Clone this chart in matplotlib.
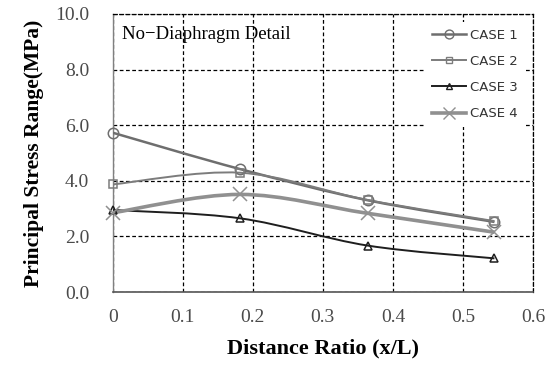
import numpy as np
import matplotlib
matplotlib.use("Agg")
import matplotlib.pyplot as plt
from matplotlib.path import Path
from matplotlib.patches import PathPatch
from matplotlib.lines import Line2D

# data
ratio = [0.0, 0.182, 0.364, 0.545]
case1 = [5.73, 4.42, 3.30, 2.52]
case2 = [3.87, 4.29, 3.31, 2.55]
case3 = [2.95, 2.65, 1.67, 1.21]
case4 = [2.85, 3.51, 2.83, 2.15]
names = ["CASE 1", "CASE 2", "CASE 3", "CASE 4"]
x_ticks = [0, 0.1, 0.2, 0.3, 0.4, 0.5, 0.6]
x_tick_labels = ["0", "0.1", "0.2", "0.3", "0.4", "0.5", "0.6"]
y_ticks = [0, 2, 4, 6, 8, 10]

styles = [
    dict(color="#6e6e6e", lw=1.8, marker="o", ms=7.5),
    dict(color="#7c7c7c", lw=1.4, marker="s", ms=5.5),
    dict(color="#1e1e1e", lw=1.4, marker="^", ms=5.5),
    dict(color="#909090", lw=2.6, marker="x", ms=10),
]


def smooth_path(xs, ys):
    # Excel-style smoothed line as cubic bezier segments
    pts = np.column_stack([xs, ys])
    n = len(pts)
    verts = [pts[0]]
    codes = [Path.MOVETO]
    for i in range(n - 1):
        p0 = pts[i - 1] if i > 0 else pts[i]
        p1 = pts[i]
        p2 = pts[i + 1]
        p3 = pts[i + 2] if i + 2 < n else pts[i + 1]
        c1 = p1 + (p2 - p0) / 6.0
        c2 = p2 - (p3 - p1) / 6.0
        verts += [c1, c2, p2]
        codes += [Path.CURVE4] * 3
    return Path(verts, codes)


fig = plt.figure(figsize=(5.56, 3.68), dpi=100)
ax = fig.add_axes([0.2027, 0.2065, 0.7559, 0.7555])

serif = ["Liberation Serif", "DejaVu Serif"]

for vals, name, st in zip([case1, case2, case3, case4], names, styles):
    patch = PathPatch(smooth_path(ratio, vals), fill=False, edgecolor=st["color"],
                      lw=st["lw"], zorder=3)
    ax.add_patch(patch)
    ax.plot(ratio, vals, linestyle="none", marker=st["marker"], ms=st["ms"],
            mfc="none", mec=st["color"], mew=1.1, zorder=4, clip_on=False)

ax.set_xlim(0, 0.6)
ax.set_ylim(0, 10)
ax.set_xticks(x_ticks)
ax.set_xticklabels(x_tick_labels)
ax.set_yticks(y_ticks)
ax.set_yticklabels([f"{v:.1f}" for v in y_ticks])
ax.tick_params(length=0, labelsize=14, colors="#4a4a4a")
ax.tick_params(axis="y", pad=17)
ax.tick_params(axis="x", pad=12)
for lab in ax.get_xticklabels() + ax.get_yticklabels():
    lab.set_fontfamily(serif)

ax.grid(True, color="black", linestyle=(0, (3, 2)), lw=0.9)
ax.set_axisbelow(True)
for side in ["top", "right"]:
    ax.spines[side].set_linestyle((0, (3, 2)))
    ax.spines[side].set_color("black")
    ax.spines[side].set_linewidth(0.9)
ax.spines["left"].set_color("#808080")
ax.spines["bottom"].set_color("#555555")
ax.spines["left"].set_linewidth(1.0)
ax.spines["bottom"].set_linewidth(1.2)

ax.set_xlabel("Distance Ratio (x/L)", fontsize=16, fontweight="bold",
              fontfamily=serif, labelpad=9)
ax.set_ylabel("Principal Stress Range(MPa)", fontsize=15.5, fontweight="bold",
              fontfamily=serif, labelpad=8)

ax.text(0.022, 0.925, "No\u2212Diaphragm Detail", transform=ax.transAxes,
        fontsize=13.5, fontfamily=serif, va="center", ha="left", zorder=5)

handles = [Line2D([], [], color=st["color"], lw=st["lw"], marker=st["marker"],
                  ms=st["ms"] * 0.85, mfc="none", mec=st["color"])
           for st in styles]
leg = ax.legend(handles, names, loc="upper right", bbox_to_anchor=(0.995, 0.995),
                frameon=True, fancybox=False, edgecolor="none", facecolor="white",
                framealpha=1, fontsize=9.5, handlelength=2.6, labelspacing=1.0,
                handletextpad=0.3, borderpad=0.5)
for t in leg.get_texts():
    t.set_color("#333333")
leg.set_zorder(6)

fig.savefig("out.png", dpi=100)
